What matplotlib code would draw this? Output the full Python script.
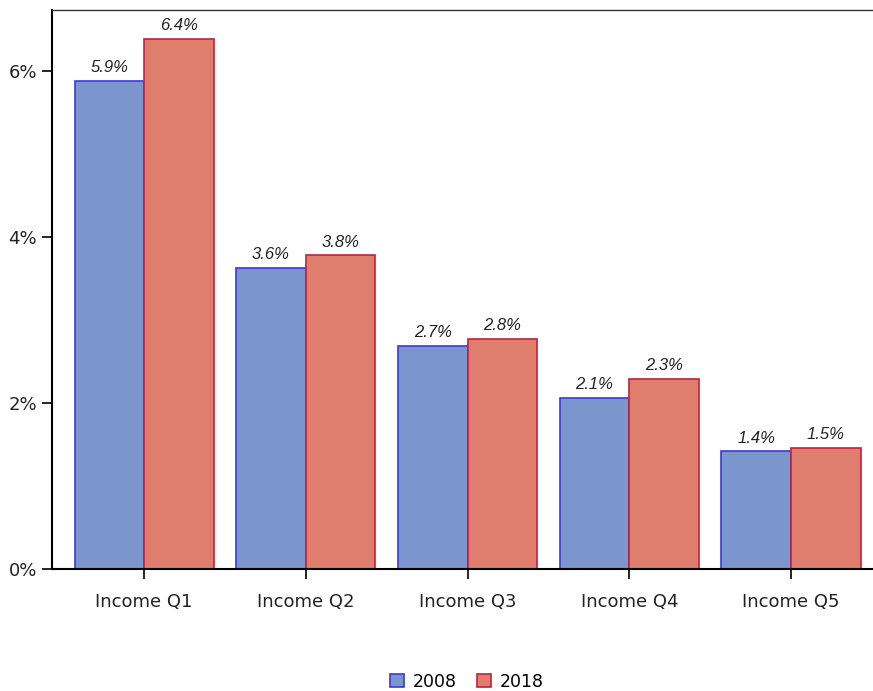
import matplotlib.pyplot as plt
import numpy as np

categories = ['Income Q1', 'Income Q2', 'Income Q3', 'Income Q4', 'Income Q5']
years = ['2008', '2018']
v2008 = [5.88, 3.63, 2.69, 2.06, 1.42]
v2018 = [6.39, 3.78, 2.77, 2.29, 1.46]
lab2008 = ['5.9%', '3.6%', '2.7%', '2.1%', '1.4%']
lab2018 = ['6.4%', '3.8%', '2.8%', '2.3%', '1.5%']

plt.rcParams['font.family'] = ['DejaVu Sans']

fig = plt.figure(figsize=(8.73, 6.91), dpi=100)
ax = fig.add_axes([0.0596, 0.1766, 0.9404, 0.809])

x = np.arange(len(categories))
w = 0.43
b1 = ax.bar(x - w / 2, v2008, w, color='#7b96cc', edgecolor='#3a3ae0', linewidth=1.2, label=years[0])
b2 = ax.bar(x + w / 2, v2018, w, color='#e07e6e', edgecolor='#c4203c', linewidth=1.2, label=years[1])

for bars, labs in ((b1, lab2008), (b2, lab2018)):
    for r, t in zip(bars, labs):
        ax.annotate(t, (r.get_x() + r.get_width() / 2, r.get_height()),
                    xytext=(0, 4), textcoords='offset points', ha='center', va='bottom',
                    fontsize=12, style='italic', family='Liberation Sans', color='#222222')

ax.set_xlim(-0.569, 4.507)
ax.set_ylim(0, 6.735)
ax.set_yticks([0, 2, 4, 6])
ax.set_yticklabels(['0%', '2%', '4%', '6%'])
ax.set_xticks(x)
ax.set_xticklabels(categories)
ax.tick_params(axis='both', labelsize=13, length=7.5, width=1.2, color='black', labelcolor='#222222')
ax.tick_params(axis='x', pad=10)

ax.spines['right'].set_visible(False)
ax.spines['top'].set_color('#333333')
ax.spines['top'].set_linewidth(1.0)
ax.spines['left'].set_linewidth(1.5)
ax.spines['bottom'].set_linewidth(1.5)

fig.legend(loc='lower center', bbox_to_anchor=(0.535, -0.022), ncol=2, frameon=False,
           fontsize=12.5, handlelength=0.8, handleheight=0.8, handletextpad=0.5, columnspacing=1.2)

fig.savefig('out.png', dpi=100)
